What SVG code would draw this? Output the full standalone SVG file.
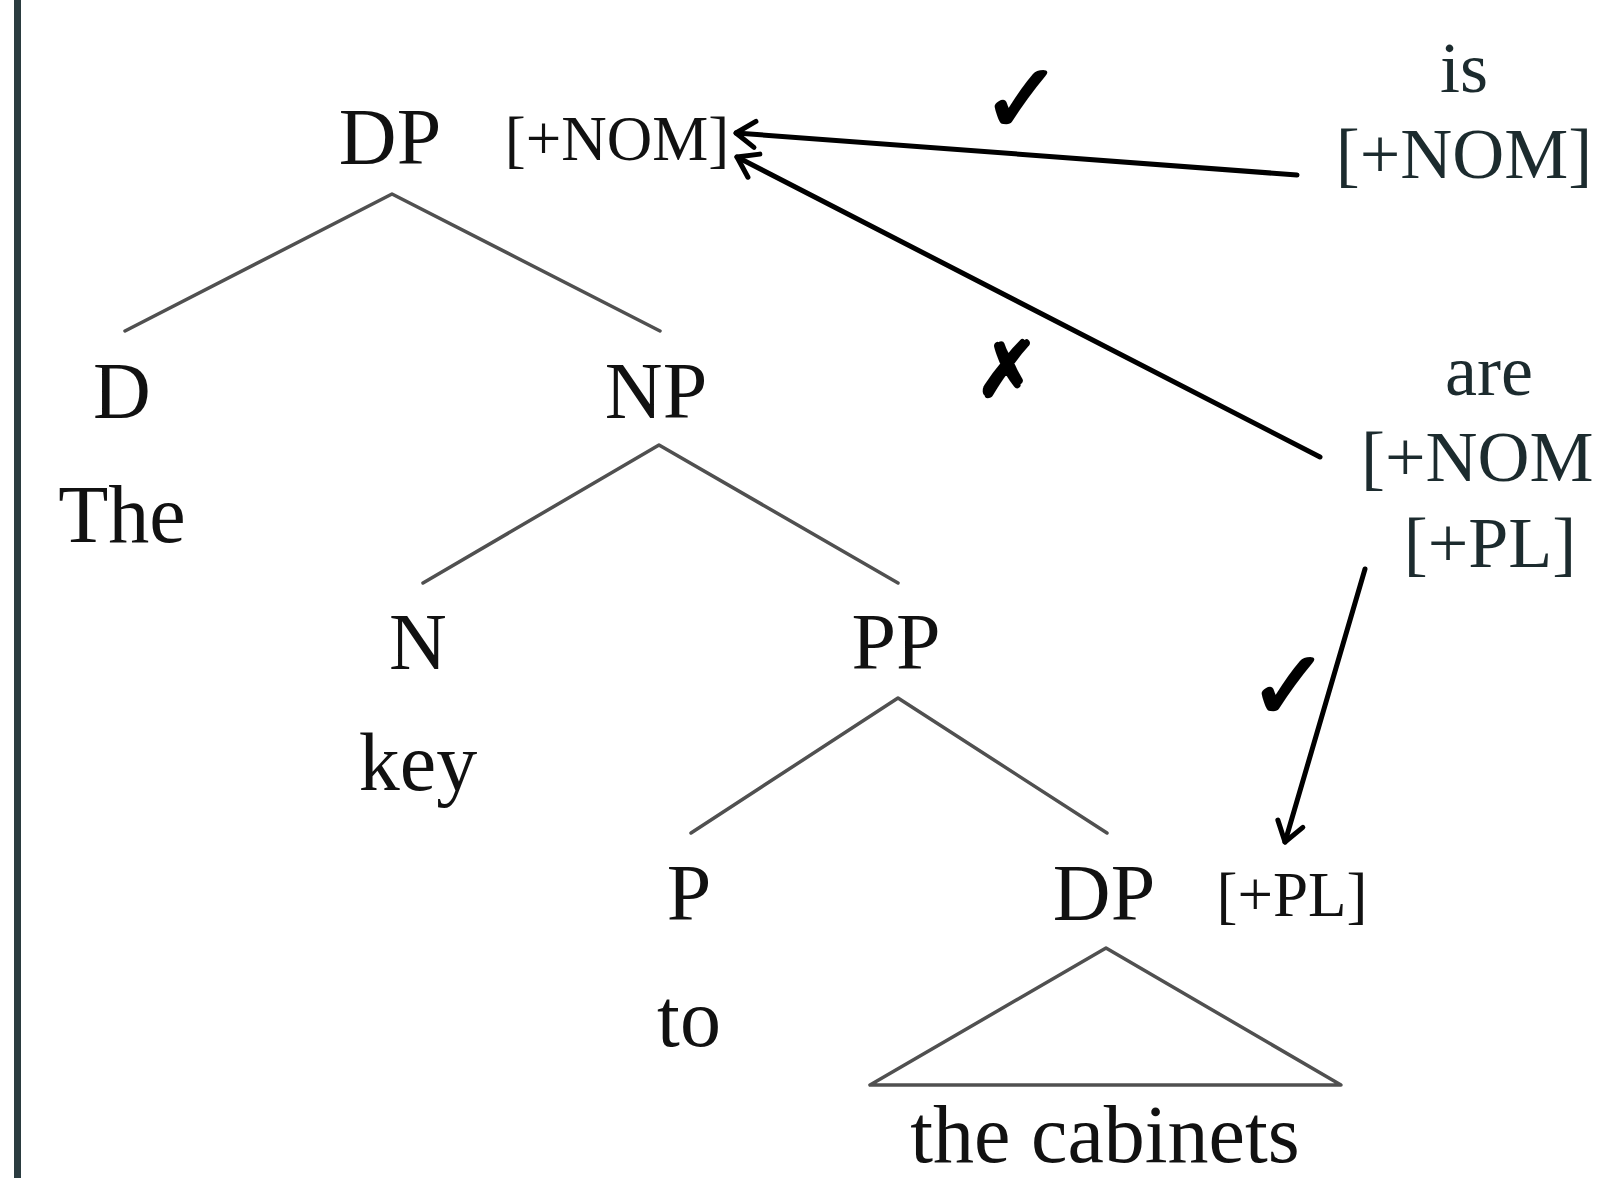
<svg xmlns="http://www.w3.org/2000/svg" width="1597" height="1178" viewBox="0 0 1597 1178">
<style>
.t{font-family:"Liberation Serif","Times New Roman",serif;fill:#111;text-anchor:middle}
.lab{font-size:80px}
.feat{font-size:63px}
.word{font-size:82px}
.r{font-family:"Liberation Serif","Times New Roman",serif;fill:#1c2b2e;text-anchor:middle;font-size:72px}
.r.st{text-anchor:start}
.br{stroke:#505050;stroke-width:3.5;fill:none;stroke-linecap:round;stroke-linejoin:round}
.arr{stroke:#000;stroke-width:5;fill:none;stroke-linecap:round;marker-end:url(#head)}
.mk{font-family:"DejaVu Sans",sans-serif;font-weight:bold;fill:#000;stroke:#000;stroke-width:3;stroke-linejoin:round;text-anchor:middle}
</style>
<defs>
<marker id="head" markerUnits="userSpaceOnUse" viewBox="-26 -20 32 40" markerWidth="32" markerHeight="40" refX="0" refY="0" orient="auto">
<path d="M-19,-13 L0,0 L-19,13" fill="none" stroke="#000" stroke-width="5" stroke-linecap="round" stroke-linejoin="round"/>
</marker>
</defs>
<rect x="14" y="0" width="7" height="1178" fill="#2b3c40"/>
<g id="branches">
<polyline class="br" points="125,331 392,194 660,331"/>
<polyline class="br" points="423,583 659,445 898,583"/>
<polyline class="br" points="691,833 898,698 1107,833"/>
<polygon class="br" points="1106,948 870,1085 1341,1085"/>
</g>
<g id="node-DP-top"><text class="t lab" x="390" y="164">DP</text><text class="t feat" x="617" y="160">[+NOM]</text></g>
<g id="node-D"><text class="t lab" x="122" y="418">D</text></g>
<g id="node-The"><text class="t word" x="122" y="542">The</text></g>
<g id="node-NP"><text class="t lab" x="656" y="418">NP</text></g>
<g id="node-N"><text class="t lab" x="418" y="669">N</text></g>
<g id="node-key"><text class="t word" x="418" y="790">key</text></g>
<g id="node-PP"><text class="t lab" x="896" y="669">PP</text></g>
<g id="node-P"><text class="t lab" x="689" y="920">P</text></g>
<g id="node-to"><text class="t word" x="689" y="1046">to</text></g>
<g id="node-DP-low"><text class="t lab" x="1104" y="920">DP</text><text class="t feat" x="1292" y="916">[+PL]</text></g>
<g id="node-cabinets"><text class="t word" x="1105" y="1162">the cabinets</text></g>
<g id="node-is"><text class="r" x="1464" y="92">is</text><text class="r" x="1464" y="178">[+NOM]</text></g>
<g id="node-are"><text class="r" x="1489" y="395">are</text><text class="r st" x="1361" y="481">[+NOM</text><text class="r" x="1490" y="567">[+PL]</text></g>
<g id="connectors">
<line class="arr" x1="1297" y1="175" x2="736" y2="133"/>
<line class="arr" x1="1320" y1="457" x2="737" y2="157"/>
<line class="arr" x1="1365" y1="569" x2="1285" y2="842"/>
</g>
<g id="marks">
<text class="mk" x="1022" y="132" font-size="96">✓</text>
<text class="mk" x="1007" y="396" font-size="76">✗</text>
<text class="mk" x="1289" y="719" font-size="96">✓</text>
</g>
</svg>
